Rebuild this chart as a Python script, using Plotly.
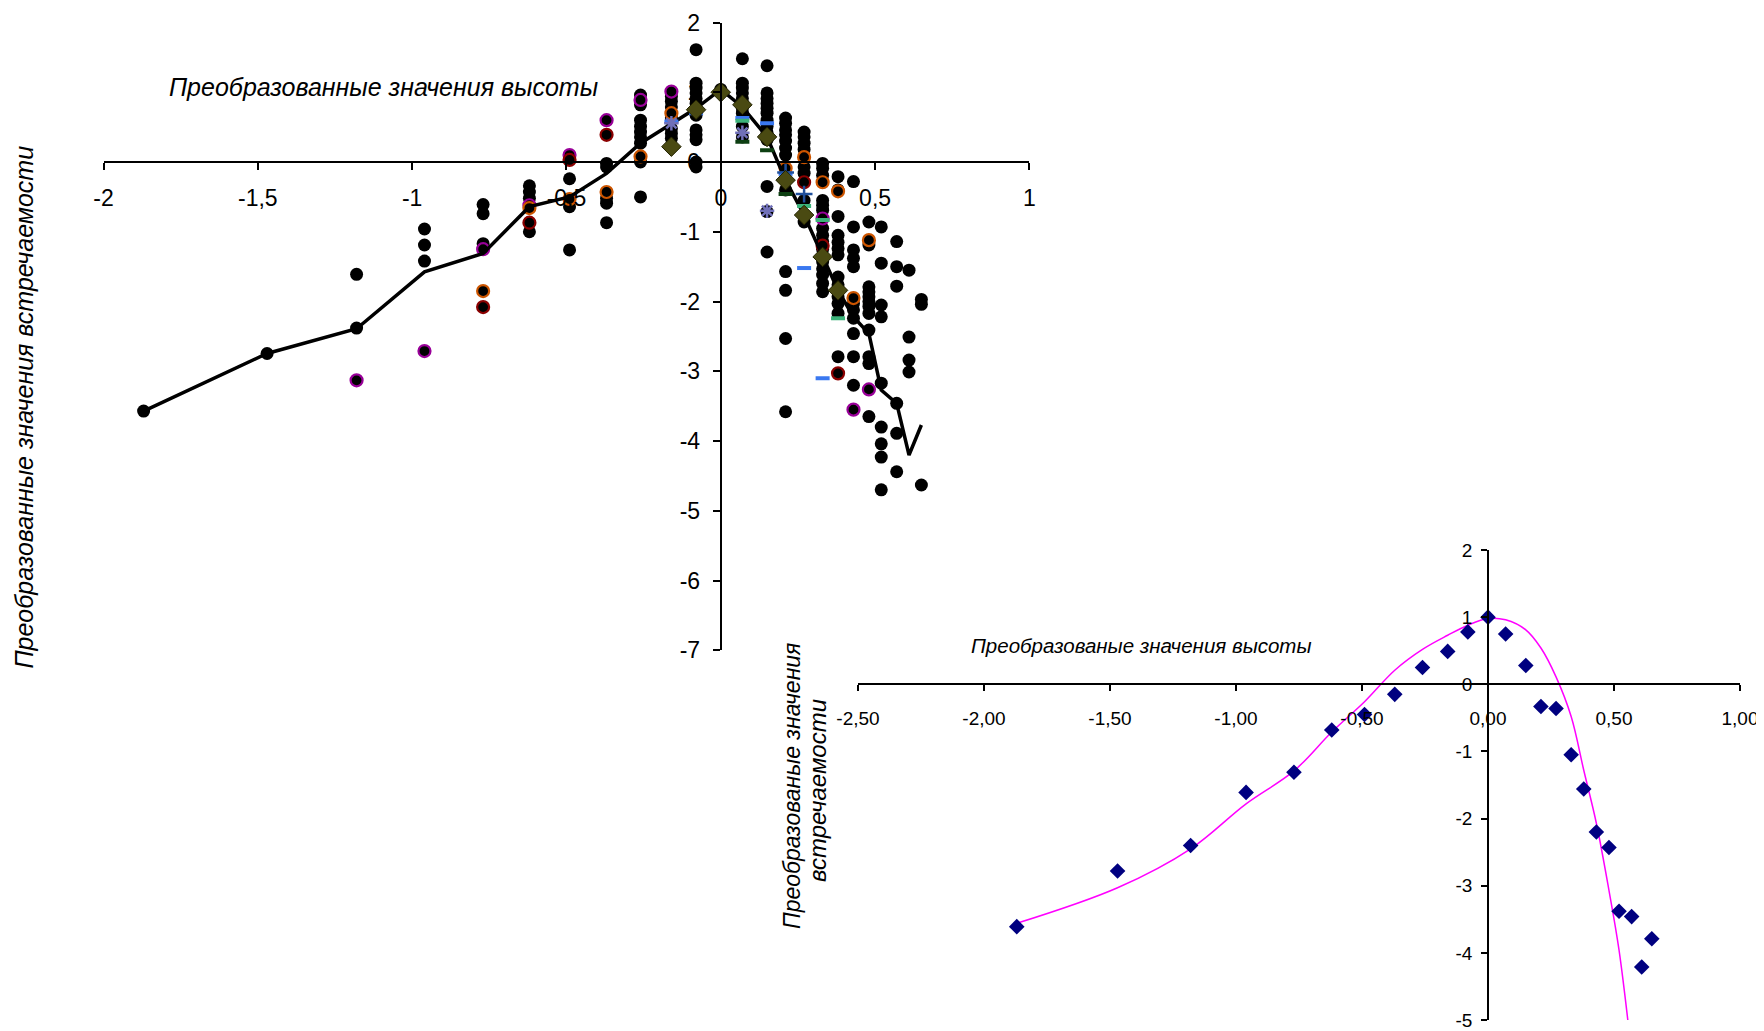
import plotly.graph_objects as go

# ---------------- data ----------------
height_x = [-1.87, -1.47, -1.18, -0.96, -0.77, -0.62, -0.49, -0.37, -0.26, -0.16, -0.08, 0.00,
            0.07, 0.15, 0.21, 0.27, 0.33, 0.38, 0.43, 0.48, 0.52, 0.57, 0.61, 0.65]

# top chart: mean line
top_mean_y = [-3.57, -2.745, -2.39, -1.574, -1.31, -0.64, -0.50, -0.163, 0.27, 0.555, 0.77, 1.04,
              0.79, 0.36, -0.26, -0.76, -1.36, -1.84, -2.22, -2.46, -3.27, -3.46, -4.20, -3.77]

# top chart: black points, one list per height_x column
top_dot_columns = [
    [-3.57],
    [-2.745],
    [-1.61, -2.38],
    [-0.96, -1.19, -1.42],
    [-0.61, -0.74, -1.17],
    [-0.34, -0.43, -0.52, -1.00],
    [-0.24, -0.64, -1.26],
    [-0.02, -0.07, -0.52, -0.59, -0.87],
    [0.96, 0.82, 0.60, 0.51, 0.43, 0.36, 0.27, 0.00, -0.50],
    [0.94, 0.87, 0.79, 0.63, 0.48, 0.41, 0.34],
    [1.61, 1.13, 1.06, 0.99, 0.91, 0.84, 0.75, 0.67, 0.46, 0.39, 0.32, 0.00, -0.07],
    [1.04],
    [1.48, 1.13, 1.06, 0.99, 0.91, 0.84, 0.77, 0.70, 0.51, 0.36],
    [1.38, 0.99, 0.91, 0.84, 0.77, 0.70, 0.60, 0.51, 0.42, 0.32, -0.35, -0.71, -1.29],
    [0.63, 0.555, 0.46, 0.39, 0.30, 0.20, 0.10, -0.09, -0.40, -1.57, -1.84, -2.53, -3.58],
    [0.43, 0.36, 0.27, 0.18, -0.07, -0.16, -0.55, -0.86],
    [-0.02, -0.09, -0.19, -0.28, -0.55, -0.62, -0.69, -0.95, -1.05, -1.14, -1.25, -1.43, -1.53,
     -1.62, -1.74, -1.86],
    [-0.21, -0.40, -0.78, -1.05, -1.15, -1.24, -1.33, -1.65, -1.76, -1.93, -2.03, -2.17, -2.79],
    [-0.28, -0.93, -1.26, -1.38, -1.50, -2.03, -2.12, -2.24, -2.46, -2.79, -3.20],
    [-0.86, -1.19, -1.79, -1.86, -1.93, -2.00, -2.07, -2.17, -2.41, -2.79, -2.89, -3.65],
    [-0.93, -1.45, -2.05, -2.22, -3.17, -3.80, -4.04, -4.23, -4.70],
    [-1.14, -1.50, -1.78, -3.46, -3.89, -4.44],
    [-1.55, -2.51, -2.84, -3.01],
    [-1.97, -2.04, -4.63],
]

# top chart: coloured series
purple_x = [-1.18, -0.96, -0.77, -0.62, -0.49, -0.37, -0.26, -0.16, 0.33, 0.43, 0.48]
purple_y = [-3.13, -2.71, -1.25, -0.62, 0.10, 0.60, 0.89, 1.01, -0.81, -3.55, -3.26]
orange_x = [-0.77, -0.62, -0.49, -0.37, -0.26, -0.16, 0.21, 0.27, 0.33, 0.38, 0.43, 0.48]
orange_y = [-1.85, -0.66, -0.53, -0.43, 0.08, 0.70, -0.09, 0.07, -0.29, -0.42, -1.95, -1.12]
darkred_x = [-0.77, -0.62, -0.49, -0.37, 0.27, 0.33, 0.38]
darkred_y = [-2.08, -0.87, 0.03, 0.39, -0.29, -1.20, -3.03]
star_x = [-0.16, 0.07, 0.15]
star_y = [0.555, 0.42, -0.70]
olive_x = [-0.16, -0.08, 0.00, 0.07, 0.15, 0.21, 0.27, 0.33, 0.38]
olive_y = [0.22, 0.75, 1.00, 0.82, 0.36, -0.26, -0.76, -1.36, -1.84]
blue_dash_x = [-0.16, -0.08, 0.07, 0.15, 0.21, 0.27, 0.33]
blue_dash_y = [0.58, 0.70, 0.63, 0.555, -0.17, -1.52, -3.10]
green_dash_x = [0.07, 0.27, 0.33, 0.38]
green_dash_y = [0.59, -0.63, -0.83, -2.24]
dkgreen_dash_x = [0.07, 0.15, 0.21]
dkgreen_dash_y = [0.29, 0.17, -0.46]
plus_x = [0.21, 0.27]
plus_y = [-0.15, -0.46]

# bottom chart
bottom_points_y = [-3.61, -2.78, -2.40, -1.61, -1.31, -0.68, -0.45, -0.15, 0.25, 0.49, 0.78, 1.00,
                   0.75, 0.28, -0.33, -0.36, -1.05, -1.56, -2.20, -2.43, -3.38, -3.46, -4.21, -3.79]
bottom_curve_y = [-3.56, -3.03, -2.45, -1.78, -1.29, -0.71, -0.26, 0.21, 0.52, 0.73, 0.88, 0.98,
                  0.96, 0.81, 0.54, 0.11, -0.48, -1.28, -2.07, -3.07, -3.96, -5.5]

top_xticks = [-2, -1.5, -1, -0.5, 0, 0.5, 1]
top_xtick_text = ['-2', '-1,5', '-1', '-0,5', '0', '0,5', '1']
top_yticks = [2, 1, 0, -1, -2, -3, -4, -5, -6, -7]
top_ytick_text = ['2', '1', '0', '-1', '-2', '-3', '-4', '-5', '-6', '-7']
bot_xticks = [-2.5, -2.0, -1.5, -1.0, -0.5, 0.0, 0.5, 1.0]
bot_xtick_text = ['-2,50', '-2,00', '-1,50', '-1,00', '-0,50', '0,00', '0,50', '1,00']
bot_yticks = [2, 1, 0, -1, -2, -3, -4, -5]
bot_ytick_text = ['2', '1', '0', '-1', '-2', '-3', '-4', '-5']

top_xtitle = 'Преобразованные значения высоты'
top_ytitle = 'Преобразованные значения встречаемости'
bot_xtitle = 'Преобразованые значения высоты'
bot_ytitle_lines = ['Преобразованые значения', 'встречаемости']

# ---------------- layout geometry ----------------
W, H = 1764, 1031
OFF = 8  # the page body adds an 8px margin; positions below are page pixels
FONT = 'Liberation Sans, Arial, sans-serif'
top_xr, top_yr = [-2, 1], [-7, 2]
bot_xr, bot_yr = [-2.5, 1], [-5, 2]


def px(x):
    return (x - OFF) / W


def py(y):
    return 1 - (y - OFF) / H


top_xd = [px(103.5), px(1029.4)]
top_yd = [py(650.3), py(22.5)]
bot_xd = [px(858.0), px(1740.0)]
bot_yd = [py(1020.0), py(550.0)]


def zero_pos(dom, rng):
    return dom[0] + (dom[1] - dom[0]) * (0 - rng[0]) / (rng[1] - rng[0])


fig = go.Figure()

dots_x, dots_y = [], []
for xv, col in zip(height_x, top_dot_columns):
    for yv in col:
        dots_x.append(xv)
        dots_y.append(yv)

fig.add_trace(go.Scatter(x=dots_x, y=dots_y, mode='markers', xaxis='x', yaxis='y',
                         marker=dict(color='black', size=13, line=dict(width=0))))


def ring(xs, ys, col):
    fig.add_trace(go.Scatter(x=xs, y=ys, mode='markers', xaxis='x', yaxis='y',
                             marker=dict(color='black', size=12, line=dict(color=col, width=2.2))))


ring(purple_x, purple_y, '#990099')
ring(orange_x, orange_y, '#cc5500')
ring(darkred_x, darkred_y, '#8b0000')

fig.add_trace(go.Scatter(x=height_x, y=top_mean_y, mode='lines', xaxis='x', yaxis='y',
                         line=dict(color='black', width=3.5)))


def dash(xs, ys, col):
    fig.add_trace(go.Scatter(x=xs, y=ys, mode='markers', xaxis='x', yaxis='y',
                             marker=dict(symbol='line-ew', size=10, line=dict(color=col, width=4))))


dash(blue_dash_x, blue_dash_y, '#3a78f0')
dash(green_dash_x, green_dash_y, '#3cb37a')
dash(dkgreen_dash_x, dkgreen_dash_y, '#0d3f12')

fig.add_trace(go.Scatter(x=plus_x, y=plus_y, mode='markers', xaxis='x', yaxis='y',
                         marker=dict(symbol='cross-thin', size=12, line=dict(color='#1f4f9c', width=2.5))))
fig.add_trace(go.Scatter(x=star_x, y=star_y, mode='markers', xaxis='x', yaxis='y',
                         marker=dict(symbol='asterisk', size=12, line=dict(color='#7070b8', width=2.5))))
fig.add_trace(go.Scatter(x=olive_x, y=olive_y, mode='markers', xaxis='x', yaxis='y',
                         marker=dict(symbol='diamond', size=15, color='#4a4a12',
                                     line=dict(color='#222200', width=1))))

# bottom chart
fig.add_trace(go.Scatter(x=height_x[:len(bottom_curve_y)], y=bottom_curve_y, mode='lines',
                         xaxis='x2', yaxis='y2',
                         line=dict(color='#ff00ff', width=1.5, shape='spline', smoothing=1)))
fig.add_trace(go.Scatter(x=height_x, y=bottom_points_y, mode='markers', xaxis='x2', yaxis='y2',
                         marker=dict(symbol='diamond', size=12, color='#000080')))

axis_common = dict(showgrid=False, zeroline=False, showline=True, linecolor='black',
                   ticks='outside', tickcolor='black', tickmode='array', automargin=False)

fig.update_layout(
    width=W, height=H, margin=dict(l=0, r=0, t=0, b=0, pad=0, autoexpand=False),
    paper_bgcolor='white', plot_bgcolor='rgba(0,0,0,0)',
    showlegend=False,
    font=dict(family=FONT, color='black'),
    xaxis=dict(axis_common, domain=top_xd, range=top_xr, anchor='free',
               position=zero_pos(top_yd, top_yr), linewidth=2, tickwidth=2, ticklen=7,
               tickvals=top_xticks, ticktext=top_xtick_text,
               tickfont=dict(size=23, family=FONT), ticklabelstandoff=8),
    yaxis=dict(axis_common, domain=top_yd, range=top_yr, anchor='free',
               position=zero_pos(top_xd, top_xr), linewidth=2, tickwidth=2, ticklen=7,
               tickvals=top_yticks, ticktext=top_ytick_text,
               tickfont=dict(size=23, family=FONT), ticklabelstandoff=8),
    xaxis2=dict(axis_common, domain=bot_xd, range=bot_xr, anchor='free',
                position=zero_pos(bot_yd, bot_yr), linewidth=1.5, tickwidth=1.5, ticklen=6,
                tickvals=bot_xticks, ticktext=bot_xtick_text,
                tickfont=dict(size=19, family=FONT), ticklabelstandoff=11),
    yaxis2=dict(axis_common, domain=bot_yd, range=bot_yr, anchor='free',
                position=zero_pos(bot_xd, bot_xr), linewidth=1.5, tickwidth=1.5, ticklen=6,
                tickvals=bot_yticks, ticktext=bot_ytick_text,
                tickfont=dict(size=19, family=FONT), ticklabelstandoff=5),
    annotations=[
        dict(text='<i>' + top_xtitle + '</i>', x=px(383), y=py(86.6), xref='paper', yref='paper',
             showarrow=False, font=dict(size=25, family=FONT), xanchor='center', yanchor='middle'),
        dict(text='<i>' + top_ytitle + '</i>', x=px(23.6), y=py(407), xref='paper', yref='paper',
             showarrow=False, textangle=-90, font=dict(size=25, family=FONT),
             xanchor='center', yanchor='middle'),
        dict(text='<i>' + bot_xtitle + '</i>', x=px(1141), y=py(645), xref='paper', yref='paper',
             showarrow=False, font=dict(size=20.5, family=FONT), xanchor='center', yanchor='middle'),
        dict(text='<i>' + bot_ytitle_lines[0] + '</i>', x=px(792), y=py(786), xref='paper',
             yref='paper', showarrow=False, textangle=-90, font=dict(size=23, family=FONT),
             xanchor='center', yanchor='middle'),
        dict(text='<i>' + bot_ytitle_lines[1] + '</i>', x=px(817), y=py(791), xref='paper',
             yref='paper', showarrow=False, textangle=-90, font=dict(size=24, family=FONT),
             xanchor='center', yanchor='middle'),
    ],
)

fig.write_html('out.html')
